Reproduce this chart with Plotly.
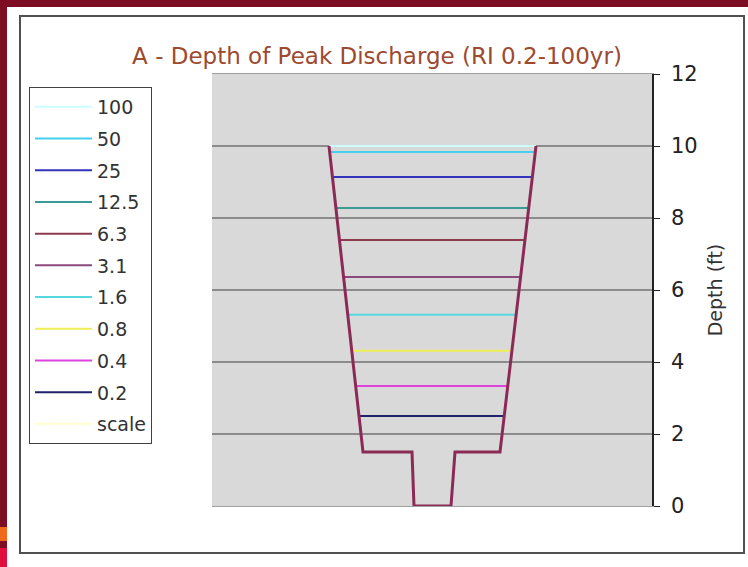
import numpy as np
import plotly.graph_objects as go

# Channel cross-section (station, depth ft)
channel_x = [11.7, 15.1, 20.0, 20.2, 23.9, 24.3, 28.8, 32.4]
channel_y = [10.0, 1.5, 1.5, 0.0, 0.0, 1.5, 1.5, 10.0]

# Recurrence intervals and peak-discharge depths (ft)
ri_labels = ["100", "50", "25", "12.5", "6.3", "3.1", "1.6", "0.8", "0.4", "0.2"]
ri_depths = [10.0, 9.83, 9.14, 8.28, 7.39, 6.36, 5.31, 4.31, 3.33, 2.50]
ri_colors = ["#ccffff", "#44d0ee", "#3333bb", "#3a9a96", "#8e3a4e", "#8a4a80",
             "#55d8e0", "#eeee55", "#dd44dd", "#22226a"]

title_text = "A - Depth of Peak Discharge (RI 0.2-100yr)"
y_ticks = [0, 2, 4, 6, 8, 10, 12]

W, H = 748, 567
L, R, T, B = 212, 96, 74, 61
PW, PH = W - L - R, H - T - B

def px(x):
    return (x - L) / PW

def py(y):
    return (H - B - y) / PH

fig = go.Figure()

left_wall_x = channel_x[:2][::-1]
left_wall_y = channel_y[:2][::-1]
right_wall_x = channel_x[-2:]
right_wall_y = channel_y[-2:]

for lab, d, c in zip(ri_labels, ri_depths, ri_colors):
    xl = float(np.interp(d, left_wall_y, left_wall_x))
    xr = float(np.interp(d, right_wall_y, right_wall_x))
    fig.add_trace(go.Scatter(x=[xl, xr], y=[d, d], mode="lines", name=lab,
                             legendgroup=lab,
                             line=dict(color=c, width=2)))

fig.add_trace(go.Scatter(x=[None], y=[None], mode="lines", name="scale",
                         legendgroup="scale",
                         line=dict(color="#ffffcc", width=2)))

fig.add_trace(go.Scatter(x=channel_x, y=channel_y, mode="lines",
                         showlegend=False, hoverinfo="skip",
                         line=dict(color="#8a2a55", width=3)))

shapes = [
    dict(type="rect", xref="paper", yref="paper", x0=px(0), x1=px(W), y0=py(0), y1=py(7),
         fillcolor="#7c0d22", line=dict(width=0), layer="above"),
    dict(type="rect", xref="paper", yref="paper", x0=px(0), x1=px(7), y0=py(0), y1=py(H),
         fillcolor="#7c0d22", line=dict(width=0), layer="above"),
    dict(type="rect", xref="paper", yref="paper", x0=px(0), x1=px(7), y0=py(527), y1=py(541),
         fillcolor="#f06a1e", line=dict(width=0), layer="above"),
    dict(type="rect", xref="paper", yref="paper", x0=px(0), x1=px(7), y0=py(548), y1=py(H),
         fillcolor="#e0103c", line=dict(width=0), layer="above"),
    dict(type="rect", xref="paper", yref="paper", x0=px(20), x1=px(744), y0=py(16), y1=py(553),
         fillcolor="rgba(0,0,0,0)", line=dict(color="#505050", width=2), layer="above"),
]

fig.update_layout(
    width=W, height=H,
    margin=dict(l=L, r=R, t=T, b=B),
    paper_bgcolor="white",
    plot_bgcolor="#d9d9d9",
    title=dict(text=title_text, x=377 / W, xanchor="center",
               y=1 - 56 / H, yanchor="middle",
               font=dict(family="DejaVu Sans", size=23, color="#9c4a30")),
    showlegend=True,
    legend=dict(x=px(29), y=py(87), xanchor="left", yanchor="top",
                bgcolor="white", bordercolor="#404040", borderwidth=1,
                font=dict(family="DejaVu Sans", size=19, color="#333333"),
                tracegroupgap=4, itemwidth=57),
    xaxis=dict(range=[0, PW / 10], showticklabels=False, ticks="", showgrid=False,
               zeroline=False, showline=True, mirror=True, linecolor="#a0a0a0",
               linewidth=1, fixedrange=True),
    yaxis=dict(range=[0, 12], tickvals=y_ticks, side="right", showgrid=True,
               gridcolor="#8c8c8c", gridwidth=1.5, zeroline=False,
               showline=True, linecolor="#222222", linewidth=1.5,
               ticks="outside", ticklen=6, tickcolor="#222222",
               ticklabelstandoff=7,
               tickfont=dict(family="DejaVu Sans", size=21, color="#222222"),
               title=dict(text="Depth (ft)", standoff=12,
                          font=dict(family="DejaVu Sans", size=19, color="#333333"))),
    shapes=shapes,
)

fig.write_html("out.html", config={"displayModeBar": False},
               post_script="document.body.style.margin='0';")
